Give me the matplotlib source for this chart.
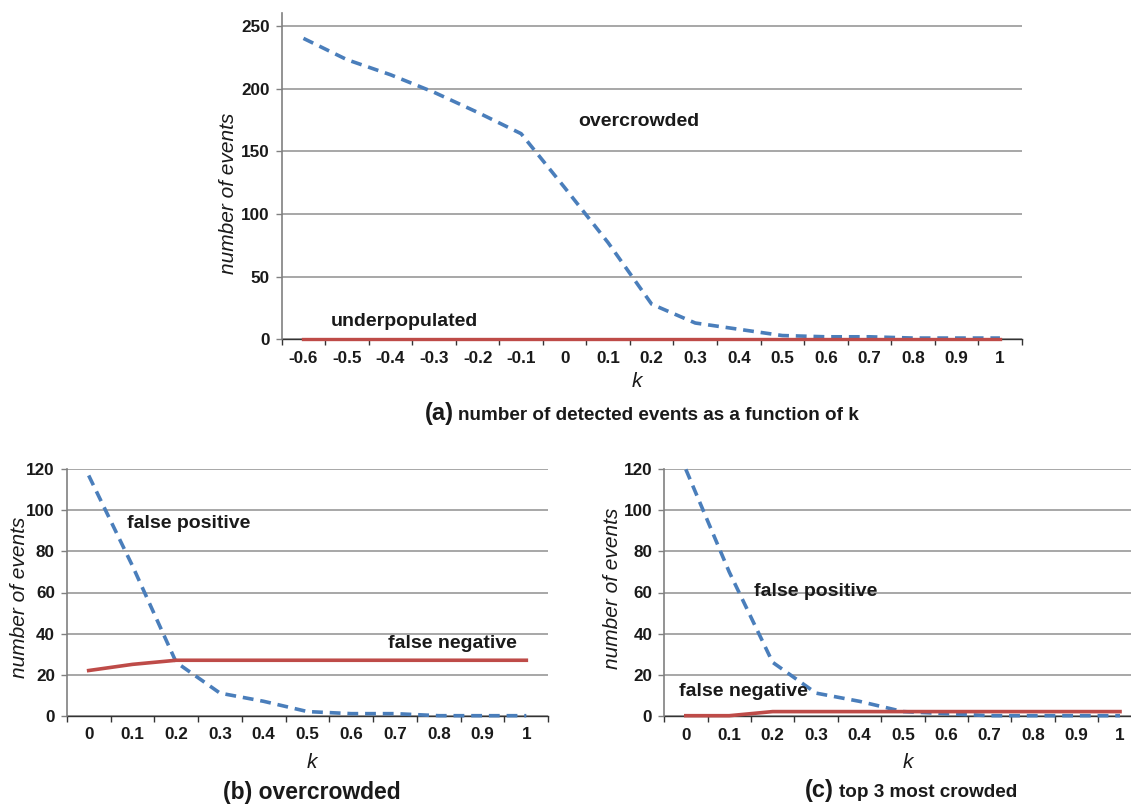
import matplotlib
matplotlib.use("Agg")
import matplotlib.pyplot as plt
import numpy as np

plt.rcParams['font.family'] = ['Liberation Sans', 'DejaVu Sans']

# ---------------- data ----------------
k_labels_a = ["-0.6", "-0.5", "-0.4", "-0.3", "-0.2", "-0.1", "0", "0.1", "0.2",
              "0.3", "0.4", "0.5", "0.6", "0.7", "0.8", "0.9", "1"]
overcrowded_a = [240, 223, 211, 197, 181, 164, 121, 77, 28, 13, 8, 3, 2, 2, 1, 1, 1]
underpopulated_a = [0, 0, 0, 0, 0, 0, 0, 0, 0, 0, 0, 0, 0, 0, 0, 0, 0]

k_labels_bc = ["0", "0.1", "0.2", "0.3", "0.4", "0.5", "0.6", "0.7", "0.8", "0.9", "1"]
false_pos_b = [117, 73, 26, 11, 7, 2, 1, 1, 0, 0, 0]
false_neg_b = [22, 25, 27, 27, 27, 27, 27, 27, 27, 27, 27]
false_pos_c = [120, 70, 26, 11, 7, 2, 1, 0, 0, 0, 0]
false_neg_c = [0, 0, 2, 2, 2, 2, 2, 2, 2, 2, 2]

yticks_a = [0, 50, 100, 150, 200, 250]
yticks_bc = [0, 20, 40, 60, 80, 100, 120]

BLUE = "#4a7ebb"
RED = "#be4b48"
GRID = "#a0a0a0"
TXT = "#1a1a1a"
DASH = (0, (3.0, 1.9))

W, H = 1131, 806
fig = plt.figure(figsize=(W / 100, H / 100), dpi=100)


def px_axes(l, r, b, t):
    return fig.add_axes([l / W, 1 - b / H, (r - l) / W, (b - t) / H])


def style_axes(ax, labels, yticks, ylim, xpad):
    n = len(labels)
    ax.set_xlim(-0.5, n - 0.5)
    ax.set_ylim(*ylim)
    ax.set_xticks(np.arange(n))
    ax.set_xticklabels(labels)
    ax.set_xticks(np.arange(n + 1) - 0.5, minor=True)
    ax.set_yticks(yticks)
    ax.tick_params(axis='x', which='major', length=0, pad=xpad,
                   labelsize=12.3, labelcolor=TXT)
    ax.tick_params(axis='x', which='minor', length=4, width=1,
                   color="#333333", direction='out')
    ax.tick_params(axis='y', length=4, width=1, color="#808080",
                   pad=4.5, labelsize=12.3, labelcolor=TXT)
    for lab in ax.get_xticklabels() + ax.get_yticklabels():
        lab.set_fontweight('bold')
    ax.grid(axis='y', color=GRID, lw=1.3)
    ax.set_axisbelow(True)
    for s in ['top', 'right']:
        ax.spines[s].set_visible(False)
    ax.spines['left'].set_color("#808080")
    ax.spines['left'].set_linewidth(1.2)
    ax.spines['bottom'].set_color("#333333")
    ax.spines['bottom'].set_linewidth(1.0)
    ax.spines['bottom'].set_zorder(1.5)


def ftext(x, y, s, **kw):
    fig.text(x / W, 1 - y / H, s, **kw)


# ---------------- (a) ----------------
ax_a = px_axes(281.7, 1021.7, 339.3, 13.3)
xa = np.arange(len(k_labels_a))
ax_a.plot(xa, overcrowded_a, color=BLUE, lw=2.6, ls=DASH, zorder=3)
ax_a.plot(xa, underpopulated_a, color=RED, lw=2.4, zorder=4, clip_on=False)
style_axes(ax_a, k_labels_a, yticks_a, (0, 260), 8.5)

ftext(639, 122, "overcrowded", ha='center', va='center', fontsize=14,
      fontweight='bold', color=TXT)
ftext(404, 321, "underpopulated", ha='center', va='center', fontsize=14,
      fontweight='bold', color=TXT)
ftext(228, 193, "number of events", rotation=90, ha='center', va='center',
      fontsize=15, style='italic', color=TXT)
ftext(637, 382, "k", ha='center', va='center', fontsize=15, style='italic', color=TXT)
ftext(454, 420, "(a)", ha='right', va='baseline', fontsize=17, fontweight='bold', color=TXT)
ftext(458, 420, "number of detected events as a function of k", ha='left',
      va='baseline', fontsize=13.6, fontweight='bold', color=TXT)

# ---------------- (b) ----------------
ax_b = px_axes(66.8, 548.2, 715.7, 469.3)
xb = np.arange(len(k_labels_bc))
ax_b.plot(xb, false_pos_b, color=BLUE, lw=2.6, ls=DASH, zorder=3, clip_on=False)
ax_b.plot(xb, false_neg_b, color=RED, lw=2.6, zorder=4)
style_axes(ax_b, k_labels_bc, yticks_bc, (0, 120), 8)

ftext(189, 524, "false positive", ha='center', va='center', fontsize=14,
      fontweight='bold', color=TXT)
ftext(452, 643, "false negative", ha='center', va='center', fontsize=14,
      fontweight='bold', color=TXT)
ftext(20, 597, "number of events", rotation=90, ha='center', va='center',
      fontsize=15, style='italic', color=TXT)
ftext(312, 763, "k", ha='center', va='center', fontsize=15, style='italic', color=TXT)
ftext(311.6, 799, "(b) overcrowded", ha='center', va='baseline', fontsize=16.5,
      fontweight='bold', color=TXT)

# ---------------- (c) ----------------
ax_c = px_axes(664.1, 1141.7, 715.7, 469.3)
xc = np.arange(len(k_labels_bc))
ax_c.plot(xc, false_pos_c, color=BLUE, lw=2.6, ls=DASH, zorder=3, clip_on=False)
ax_c.plot(xc, false_neg_c, color=RED, lw=2.6, zorder=4, clip_on=False)
style_axes(ax_c, k_labels_bc, yticks_bc, (0, 120), 8.5)

ftext(816, 592, "false positive", ha='center', va='center', fontsize=14,
      fontweight='bold', color=TXT)
ftext(743, 691, "false negative", ha='center', va='center', fontsize=14,
      fontweight='bold', color=TXT)
ftext(612, 588, "number of events", rotation=90, ha='center', va='center',
      fontsize=15, style='italic', color=TXT)
ftext(908, 762, "k", ha='center', va='center', fontsize=15, style='italic', color=TXT)
ftext(834, 797, "(c)", ha='right', va='baseline', fontsize=17, fontweight='bold', color=TXT)
ftext(839, 797, "top 3 most crowded", ha='left', va='baseline', fontsize=13.6,
      fontweight='bold', color=TXT)

fig.savefig("out.png", dpi=100)
